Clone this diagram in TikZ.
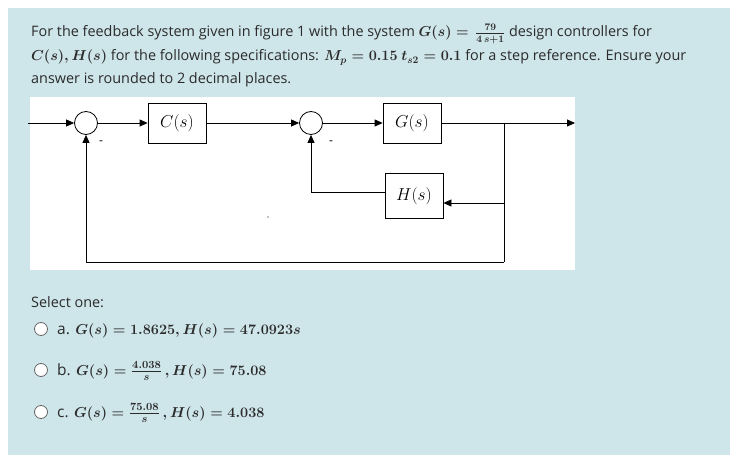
\documentclass[tikz,border=0pt]{standalone}
\usepackage{amsmath}
\usepackage{fontspec}
\setmainfont{Open Sans}
\usetikzlibrary{arrows.meta}
\definecolor{bgc}{HTML}{CEE5EA}
\definecolor{txt}{HTML}{2B2B2B}
\begin{document}
\begin{tikzpicture}[x=1pt,y=-1pt,
  blk/.style={draw,thick,minimum width=58pt,minimum height=40pt,inner sep=0pt,font=\fontsize{17}{17}\selectfont},
  sum/.style={draw,thick,circle,minimum size=23pt,inner sep=0pt},
  ln/.style={thick},
  ar/.style={thick,-{Triangle[length=8pt,width=7pt]}},
  tx/.style={anchor=base west,inner sep=0pt,text=txt,font=\fontsize{14.4}{16}\selectfont},
  opt/.style={tx,font=\fontsize{15.5}{17}\selectfont},
  radio/.style={draw=gray!80!black,fill=white,thick,circle,minimum size=13pt,inner sep=0pt}]
\useasboundingbox (0,0) rectangle (738,462);
\fill[white] (0,0) rectangle (738,462);
\fill[bgc] (8,8) rectangle (730,455);
\fill[white] (30,97) rectangle (575,270);
% text
\node[tx] (l1) at (31,37) {For the feedback system given in figure 1 with the system $\boldsymbol{G(s)=}\,\boldsymbol{\frac{79}{4\,s+1}}$ design controllers for};
\node[tx] (l2) at (31,61) {$\boldsymbol{C(s),H(s)}$ for the following specifications: $\boldsymbol{M_p=0.15\ t_{s2}=0.1}$ for a step reference. Ensure your};
\node[tx] (l3) at (31,84) {answer is rounded to 2 decimal places.};
% diagram
\coordinate (in) at (28,123);
\node[sum] (s1) at (86,123) {};
\node[blk] (C) at (177,123) {$C(s)$};
\node[sum] (s2) at (311,123) {};
\node[blk] (G) at (412,123) {$G(s)$};
\node[blk,minimum height=45pt] (H) at (414,196) {$H(s)$};
\coordinate (br) at (504,123);
\coordinate (out) at (575,123);
\coordinate (bot) at (504,262);
\draw[ar] (in) -- (s1);
\draw[ar] (s1) -- (C);
\draw[ar] (C) -- (s2);
\draw[ar] (s2) -- (G);
\draw[ar] (G) -- (out);
\draw[ln] (br) -- (bot);
\draw[ar] (504,203) -- (H.east |- 0,203);
\draw[ar] (H.west |- 0,192) -| (s2);
\draw[ar] (bot) -| (s1);
\node[inner sep=0pt,font=\large] (m1) at (101,143) {-};
\node[inner sep=0pt,font=\large] (m2) at (331,143) {-};
\fill (268,217) circle (0.6);
% options
\node[tx] (sel) at (31,307) {Select one:};
\node[radio] (r1) at (41,329) {};
\node[radio] (r2) at (41,370) {};
\node[radio] (r3) at (41,412) {};
\node[opt] (oa) at (57,334) {a. $\boldsymbol{G(s)=1.8625,H(s)=47.0923s}$};
\node[opt] (ob) at (57,375) {b. $\boldsymbol{G(s)=\frac{4.038}{s}\,,H(s)=75.08}$};
\node[opt] (oc) at (57,417) {c. $\boldsymbol{G(s)=\frac{75.08}{s}\,,H(s)=4.038}$};
\end{tikzpicture}
\end{document}
